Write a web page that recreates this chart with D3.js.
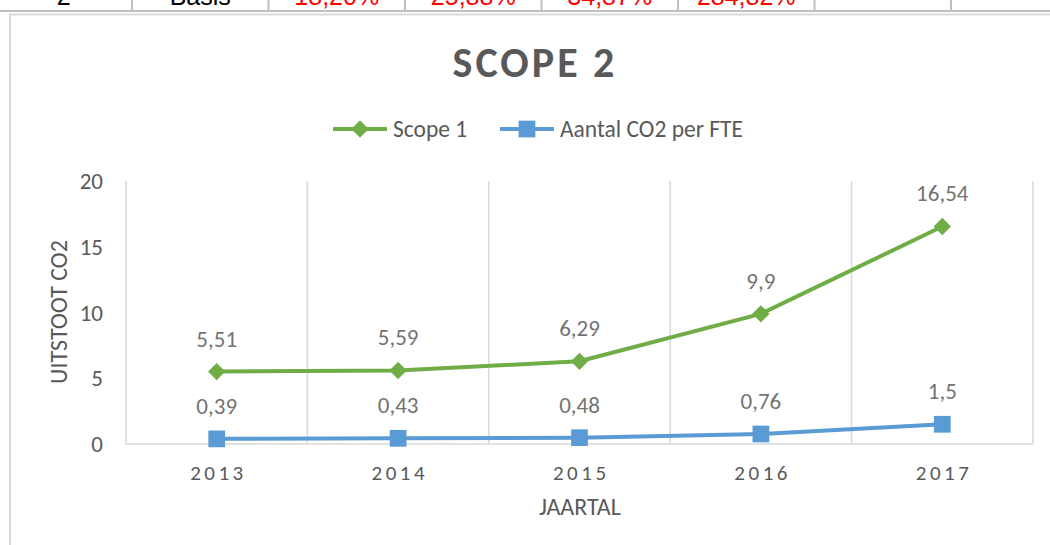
<!DOCTYPE html>
<html><head><meta charset="utf-8">
<script src="https://cdn.jsdelivr.net/npm/d3@7"></script>
<style>body{margin:0;background:#fff;} svg{display:block;}</style>
</head><body>
<svg id="c" width="1050" height="545"></svg>
<script>
// ---- data ----
const years = ["2013", "2014", "2015", "2016", "2017"];
const scope1 = [5.51, 5.59, 6.29, 9.9, 16.54];
const co2PerFte = [0.39, 0.43, 0.48, 0.76, 1.5];
const yTicks = [0, 5, 10, 15, 20];
const seriesNames = ["Scope 1", "Aantal CO2 per FTE"];
const tableRow = ["2", "Basis", "18,20%", "25,88%", "34,87%", "284,82%", "", ""];
const tableRowIsRed = [false, false, true, true, true, true, false, false];

const FONT = "Carlito, Lato, 'Open Sans', sans-serif";
const svg = d3.select("#c");
const fmt = v => String(v).replace(".", ",");

// ---- table fragment at the top ----
const colX = d3.scaleLinear().domain([0, 1]).range([-4.5, 132]);
const tbl = svg.append("g");
d3.range(1, 8).forEach(i => {
  tbl.append("line").attr("x1", colX(i)).attr("x2", colX(i)).attr("y1", 0).attr("y2", 11)
    .attr("stroke", "#bfbfbf").attr("stroke-width", 2);
});
tbl.append("line").attr("x1", 0).attr("x2", 1050).attr("y1", 11).attr("y2", 11)
  .attr("stroke", "#bfbfbf").attr("stroke-width", 2);
tbl.selectAll("text").data(tableRow).join("text")
  .attr("x", (d, i) => colX(i + 0.5)).attr("y", 4.5)
  .attr("text-anchor", "middle")
  .attr("font-family", "'Liberation Sans', Arial, sans-serif")
  .attr("font-size", 25)
  .attr("fill", (d, i) => tableRowIsRed[i] ? "#ff0000" : "#000")
  .text(d => d);

// ---- chart frame ----
svg.append("path").attr("d", "M10,545 L10,14.5 L1050,14.5")
  .attr("fill", "none").attr("stroke", "#d9d9d9").attr("stroke-width", 2);

// ---- scales ----
const x = d3.scaleBand().domain(years).range([126, 1033]).padding(0);
const cx = d => x(d) + x.bandwidth() / 2;
const y = d3.scaleLinear().domain([0, 20]).range([444, 181]);

// gridlines (vertical, category boundaries)
const edges = years.map(d => x(d)).concat([x.range()[1]]);
svg.append("g").selectAll("line").data(edges).join("line")
  .attr("x1", d => d).attr("x2", d => d).attr("y1", y(20)).attr("y2", y(0))
  .attr("stroke", "#d9d9d9").attr("stroke-width", 1.5);
// x axis line
svg.append("line").attr("x1", x.range()[0]).attr("x2", x.range()[1])
  .attr("y1", y(0)).attr("y2", y(0)).attr("stroke", "#d9d9d9").attr("stroke-width", 1.5);

// y tick labels
svg.append("g").selectAll("text").data(yTicks).join("text")
  .attr("x", 103).attr("y", d => y(d) + 8)
  .attr("text-anchor", "end").attr("font-family", FONT).attr("font-size", 23)
  .attr("fill", "#595959").text(d => d);

// x tick labels
svg.append("g").selectAll("text").data(years).join("text")
  .attr("x", d => cx(d) + 1.75).attr("y", 480)
  .attr("text-anchor", "middle").attr("font-family", FONT).attr("font-size", 21)
  .attr("letter-spacing", 3.5)
  .attr("fill", "#595959").text(d => d);

// axis titles
svg.append("text").attr("x", 580).attr("y", 515).attr("text-anchor", "middle")
  .attr("font-family", FONT).attr("font-size", 24).attr("fill", "#595959").text("JAARTAL");
svg.append("text").attr("transform", "translate(67,312) rotate(-90)").attr("text-anchor", "middle")
  .attr("font-family", FONT).attr("font-size", 24).attr("fill", "#595959").text("UITSTOOT CO2");

// title
svg.append("text").attr("x", 535).attr("y", 77).attr("text-anchor", "middle")
  .attr("font-family", FONT).attr("font-size", 42).attr("font-weight", "bold")
  .attr("letter-spacing", 3)
  .attr("fill", "#595959").text("SCOPE 2");

// ---- series ----
const series = [
  { name: seriesNames[0], values: scope1, color: "#70ad47", sym: d3.symbolSquare, size: 150, rot: 45 },
  { name: seriesNames[1], values: co2PerFte, color: "#5b9bd5", sym: d3.symbolSquare, size: 280, rot: 0 }
];
const line = d3.line().x((d, i) => cx(years[i])).y(d => y(d));

series.forEach(s => {
  const g = svg.append("g");
  g.append("path").attr("d", line(s.values)).attr("fill", "none")
    .attr("stroke", s.color).attr("stroke-width", 4).attr("stroke-linejoin", "round");
  g.selectAll("path.m").data(s.values).join("path").attr("class", "m")
    .attr("d", d3.symbol(s.sym, s.size)())
    .attr("transform", (d, i) => `translate(${cx(years[i])},${y(d)}) rotate(${s.rot})`)
    .attr("fill", s.color);
  g.selectAll("text").data(s.values).join("text")
    .attr("x", (d, i) => cx(years[i])).attr("y", d => y(d) - 25)
    .attr("text-anchor", "middle").attr("font-family", FONT).attr("font-size", 23)
    .attr("fill", "#737373").text(d => fmt(d));
});

// ---- legend ----
const legendPos = [333, 500];
series.forEach((s, i) => {
  const lx = legendPos[i];
  const g = svg.append("g").attr("transform", `translate(${lx},129)`);
  g.append("line").attr("x1", 0).attr("x2", 54).attr("stroke", s.color).attr("stroke-width", 4);
  g.append("path").attr("d", d3.symbol(s.sym, s.size)())
    .attr("transform", `translate(27,0) rotate(${s.rot})`).attr("fill", s.color);
  g.append("text").attr("x", 60).attr("y", 8).attr("font-family", FONT).attr("font-size", 23.5)
    .attr("fill", "#595959").text(s.name);
});
</script>
</body></html>
